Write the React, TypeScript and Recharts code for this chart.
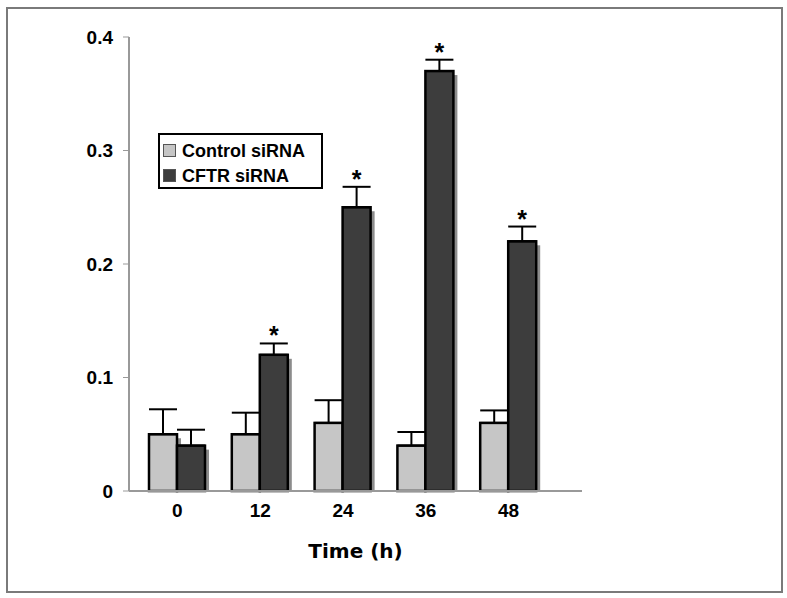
import React from 'react';
import { BarChart, Bar, XAxis, YAxis, ErrorBar, LabelList } from 'recharts';

const times = ['0', '12', '24', '36', '48'];
const controlValues = [0.05, 0.05, 0.06, 0.04, 0.06];
const controlErrors = [0.022, 0.019, 0.02, 0.012, 0.011];
const cftrValues = [0.04, 0.12, 0.25, 0.37, 0.22];
const cftrErrors = [0.014, 0.01, 0.018, 0.01, 0.013];
const significant = [false, true, true, true, true];
const yTicks = [0, 0.1, 0.2, 0.3, 0.4];
const seriesNames = ['Control siRNA', 'CFTR siRNA'];

const data = times.map((t, i) => ({
  time: t,
  control: controlValues[i],
  controlErr: [0, controlErrors[i]],
  cftr: cftrValues[i],
  cftrErr: [0, cftrErrors[i]],
  star: significant[i] ? '*' : '',
}));

const CONTROL_FILL = '#c6c6c6';
const CFTR_FILL = '#3d3d3d';
const FONT = '"Liberation Sans", Arial, sans-serif';

// bar with a gray drop shadow behind it, like the old Excel style
const ShadowBar = (props: any) => {
  const { x, y, width, height, fill } = props;
  if (!height || height <= 0) return null;
  return (
    <g>
      <rect x={x + 4} y={y + 4} width={width} height={height - 4} fill="#8c8c8c" />
      <rect x={x} y={y} width={width} height={height} fill={fill} stroke="#000" strokeWidth={2.5} />
    </g>
  );
};

// asterisk sits just above the error bar cap
const StarLabel = (props: any) => {
  const { x, y, width, height, value, index } = props;
  if (!value) return null;
  const pxPerUnit = height / cftrValues[index];
  const capY = y - cftrErrors[index] * pxPerUnit;
  return (
    <text x={x + width / 2} y={capY + 1} textAnchor="middle" fontSize={25} fontWeight="bold" fontFamily={FONT} fill="#000">
      {value}
    </text>
  );
};

const XTick = (props: any) => {
  const { x, y, payload } = props;
  return (
    <text x={x} y={y + 18} textAnchor="middle" fontSize={19} fontWeight="bold" fontFamily={FONT} fill="#000">
      {payload.value}
    </text>
  );
};

const LegendBox = () => (
  <div
    style={{
      position: 'absolute',
      left: 158,
      top: 133,
      border: '2px solid #000',
      width: 165,
      height: 56,
      boxSizing: 'border-box',
      background: '#fff',
      fontFamily: FONT,
      fontWeight: 'bold',
      fontSize: 18,
      padding: '3px 0 0 3px',
      lineHeight: '24px',
    }}
  >
    {[CONTROL_FILL, CFTR_FILL].map((fill, i) => (
      <div key={seriesNames[i]} style={{ display: 'flex', alignItems: 'center', height: 25, whiteSpace: 'nowrap' }}>
        <span
          style={{
            display: 'inline-block',
            width: 11,
            height: 11,
            background: fill,
            border: '1px solid #555',
            marginRight: 6,
          }}
        />
        {seriesNames[i]}
      </div>
    ))}
  </div>
);

export default function App() {
  return (
    <div style={{ position: 'absolute', left: 0, top: 0, width: 787, height: 598, background: '#fff' }}>
      <div
        style={{
          position: 'absolute',
          left: 6,
          top: 7,
          width: 777,
          height: 586,
          border: '2px solid #7a7a7a',
          boxSizing: 'border-box',
        }}
      />
      <div style={{ position: 'absolute', left: 0, top: 0 }}>
        <BarChart
          width={787}
          height={598}
          data={data}
          margin={{ top: 37, right: 205, bottom: 0, left: 0 }}
          barSize={28}
          barGap={0}
        >
          <XAxis
            dataKey="time"
            axisLine={{ stroke: '#999', strokeWidth: 2 }}
            tickLine={false}
            tick={<XTick />}
            height={107}
            padding={{ left: 7, right: 32 }}
            label={{
              value: 'Time (h)',
              position: 'insideBottom',
              offset: 40,
              fontSize: 20,
              fontWeight: 'bold',
              fontFamily: '"DejaVu Sans", Verdana, sans-serif',
              fill: '#000',
            }}
          />
          <YAxis
            width={129}
            domain={[0, 0.4]}
            ticks={yTicks}
            axisLine={{ stroke: '#999', strokeWidth: 2 }}
            tickLine={{ stroke: '#999' }}
            tickSize={6}
            tickMargin={10}
            tickFormatter={(v: number) => (v === 0 ? '0' : v.toFixed(1))}
            tick={{ fontSize: 19, fontWeight: 'bold', fontFamily: FONT, fill: '#000' }}
          />
          <Bar dataKey="control" name={seriesNames[0]} fill={CONTROL_FILL} shape={<ShadowBar />} isAnimationActive={false}>
            <ErrorBar dataKey="controlErr" direction="y" width={14} stroke="#000" strokeWidth={2} />
          </Bar>
          <Bar dataKey="cftr" name={seriesNames[1]} fill={CFTR_FILL} shape={<ShadowBar />} isAnimationActive={false}>
            <ErrorBar dataKey="cftrErr" direction="y" width={14} stroke="#000" strokeWidth={2} />
            <LabelList dataKey="star" content={<StarLabel />} />
          </Bar>
        </BarChart>
      </div>
      <LegendBox />
    </div>
  );
}
